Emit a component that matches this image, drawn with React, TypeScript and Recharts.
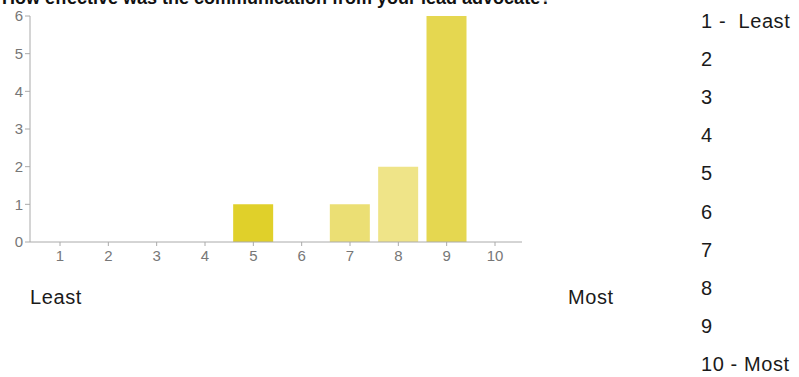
import React from 'react'
import { BarChart, Bar, XAxis, YAxis, Cell } from 'recharts'

// ratings 1..10 and number of answers for each
const ratings = [1, 2, 3, 4, 5, 6, 7, 8, 9, 10]
const counts = [0, 0, 0, 0, 1, 0, 1, 2, 6, 0]
const barColors = [
  '#e0d02a', '#e0d02a', '#e0d02a', '#e0d02a', '#e0d02a',
  '#e0d02a', '#ebdf74', '#efe488', '#e5d750', '#e0d02a',
]
const yTicks = [0, 1, 2, 3, 4, 5, 6]
const legendLabels = ['1 -  Least', '2', '3', '4', '5', '6', '7', '8', '9', '10 - Most']

const title = 'How effective was the communication from your lead advocate?'
const FONT = '"Liberation Sans", Arial, sans-serif'

const data = ratings.map((r, i) => ({ rating: r, count: counts[i] }))

const labelStyle: React.CSSProperties = {
  position: 'absolute',
  fontSize: 20,
  letterSpacing: 0.6,
  color: '#1a1a1a',
  whiteSpace: 'pre',
}

export default function App() {
  return (
    <div
      style={{
        position: 'absolute',
        left: 0,
        top: 0,
        width: 799,
        height: 377,
        background: '#fff',
        fontFamily: FONT,
        overflow: 'hidden',
      }}
    >
      <div
        style={{
          position: 'absolute',
          left: 2,
          top: -12,
          fontSize: 18,
          fontWeight: 'bold',
          color: '#111',
          whiteSpace: 'nowrap',
        }}
      >
        {title}
      </div>
      <BarChart
        width={799}
        height={377}
        data={data}
        margin={{ top: 16, right: 277, left: 0, bottom: 113 }}
      >
        <XAxis
          dataKey="rating"
          type="number"
          domain={[1, 10]}
          ticks={ratings}
          padding={{ left: 30, right: 27 }}
          height={22}
          tickSize={4}
          tickMargin={4}
          stroke="#aaa"
          tick={{ fill: '#777', fontSize: 15, fontFamily: FONT }}
        />
        <YAxis
          type="number"
          domain={[0, 6]}
          ticks={yTicks}
          width={30}
          tickSize={5}
          tickMargin={2}
          stroke="#aaa"
          tick={{ fill: '#777', fontSize: 15, fontFamily: FONT }}
        />
        <Bar dataKey="count" barSize={40} isAnimationActive={false}>
          {data.map((d, i) => (
            <Cell key={d.rating} fill={barColors[i]} />
          ))}
        </Bar>
      </BarChart>
      <div style={{ ...labelStyle, left: 30, top: 286 }}>Least</div>
      <div style={{ ...labelStyle, left: 568, top: 286 }}>Most</div>
      {legendLabels.map((lab, i) => (
        <div key={lab} style={{ ...labelStyle, left: 701, top: 10 + i * 38.1 }}>
          {lab}
        </div>
      ))}
    </div>
  )
}
